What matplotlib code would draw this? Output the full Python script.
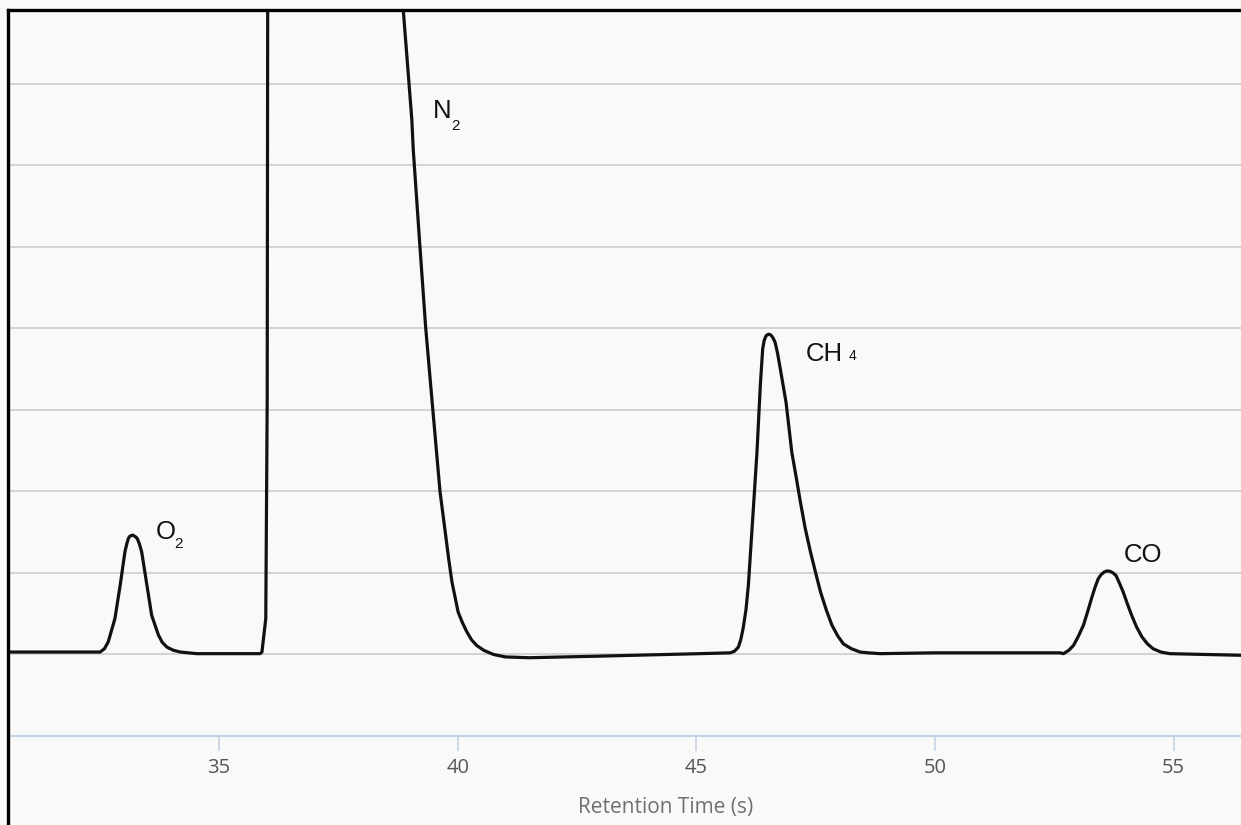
import matplotlib
matplotlib.use("Agg")
import matplotlib.pyplot as plt
from matplotlib.lines import Line2D

# chromatogram: retention time (s) / detector signal
o2_time = [30.58, 31.50, 32.30, 32.51, 32.60, 32.68, 32.82, 32.93, 33.03, 33.07, 33.10, 33.13,
           33.19, 33.26, 33.29, 33.33, 33.38, 33.49, 33.59, 33.73, 33.81, 33.91, 34.05, 34.19,
           34.53, 35.86]
o2_signal = [0.03, 0.03, 0.03, 0.03, 0.07, 0.155, 0.44, 0.85, 1.26, 1.36, 1.42, 1.45,
             1.465, 1.44, 1.42, 1.36, 1.26, 0.85, 0.48, 0.24, 0.15, 0.09, 0.05, 0.03,
             0.01, 0.01]

n2_time = [35.90, 35.98, 36.01, 36.02, 36.03, 38.80, 38.86, 39.04, 39.07, 39.21, 39.33, 39.48,
           39.63, 39.74, 39.81, 39.88, 40.01, 40.10, 40.19, 40.29, 40.40, 40.55, 40.75, 41.00,
           41.50, 43.00, 45.07]
n2_signal = [0.03, 0.44, 3.13, 7.91, 8.80, 8.80, 7.91, 6.56, 6.19, 5.00, 4.01, 3.00,
             2.00, 1.50, 1.18, 0.89, 0.52, 0.39, 0.28, 0.18, 0.11, 0.05, 0.00, -0.03,
             -0.04, -0.02, 0.01]

ch4_time = [45.71, 45.80, 45.88, 45.93, 45.98, 46.04, 46.09, 46.18, 46.27, 46.34, 46.39, 46.42,
            46.46, 46.51, 46.56, 46.60, 46.65, 46.70, 46.76, 46.88, 47.00, 47.09, 47.18, 47.28,
            47.39, 47.50, 47.60, 47.72, 47.84, 47.96, 48.08, 48.25, 48.43, 48.60, 48.85, 49.96,
            52.62]
ch4_signal = [0.02, 0.04, 0.09, 0.18, 0.32, 0.55, 0.85, 1.66, 2.48, 3.30, 3.75, 3.85,
              3.91, 3.93, 3.92, 3.89, 3.83, 3.70, 3.50, 3.09, 2.48, 2.18, 1.87, 1.55,
              1.26, 1.00, 0.77, 0.55, 0.36, 0.23, 0.13, 0.07, 0.03, 0.02, 0.01, 0.02,
              0.02]

co_time = [52.69, 52.80, 52.90, 53.00, 53.11, 53.20, 53.28, 53.35, 53.42, 53.48, 53.54, 53.60,
           53.67, 53.73, 53.79, 53.86, 53.94, 54.03, 54.12, 54.22, 54.33, 54.45, 54.57, 54.73,
           54.92, 56.41]
co_signal = [0.01, 0.05, 0.11, 0.22, 0.36, 0.53, 0.69, 0.82, 0.93, 0.98, 1.01, 1.025,
             1.02, 1.00, 0.97, 0.88, 0.77, 0.62, 0.48, 0.34, 0.22, 0.13, 0.07, 0.03,
             0.01, -0.01]

peak_names = ["O", "N", "CH", "CO"]
peak_subs = ["2", "2", "4", ""]
x_ticks = [35, 40, 45, 50, 55]

# label anchors (data coords) for name and subscript
name_pos = [(33.68, 1.42), (39.48, 6.58), (47.29, 3.60), (53.96, 1.13)]
sub_pos = [(34.06, 1.31), (39.86, 6.44), (48.19, 3.61), None]
sub_size = [11, 11, 10, 11]

plt.rcParams['font.family'] = ['Open Sans', 'DejaVu Sans']
bg = '#f9f9f9'

fig = plt.figure(figsize=(12.41, 8.25), dpi=100, facecolor=bg)
ax = fig.add_axes([8 / 1241, 0.1079, 1 - 8 / 1241, 0.8800])
ax.set_facecolor(bg)

times = o2_time + n2_time + ch4_time + co_time
signal = o2_signal + n2_signal + ch4_signal + co_signal
ax.plot(times, signal, color='#111111', lw=2.3, solid_joinstyle='round',
        solid_capstyle='round', zorder=3)

for name, sub, p, sp, ss in zip(peak_names, peak_subs, name_pos, sub_pos, sub_size):
    ax.text(p[0], p[1], name, family='Liberation Sans', fontsize=18.5,
            color='#111111', ha='left', va='baseline')
    if sp is not None:
        ax.text(sp[0], sp[1], sub, family='Liberation Sans', fontsize=ss,
                color='#111111', ha='left', va='baseline')

ax.set_xlim(30.58, 56.41)
ax.set_ylim(-1, 7.907)
ax.set_yticks(range(0, 8))
ax.yaxis.grid(True, color='#d4d1d1', lw=1.4)
ax.set_axisbelow(True)
ax.tick_params(axis='y', left=False, labelleft=False)

ax.set_xticks(x_ticks)
ax.tick_params(axis='x', colors='#c3d3e4', length=11, width=1.2, pad=5,
               labelsize=14.5, labelcolor='#555555')
for s in ['left', 'right', 'top']:
    ax.spines[s].set_visible(False)
ax.spines['bottom'].set_color('#c3d3e4')
ax.spines['bottom'].set_linewidth(1.5)

ax.set_xlabel('Retention Time (s)', fontsize=15, color='#707070')
ax.xaxis.set_label_coords(0.533, -0.098)
ax.xaxis.label.set_va('center')

# black frame on the top and left edge of the screenshot
top_y = (825 - 10) / 825
left_x = 8 / 1241
fig.add_artist(Line2D([left_x, 1.0], [top_y, top_y], transform=fig.transFigure,
                      color='black', lw=2.4))
fig.add_artist(Line2D([left_x, left_x], [0, top_y], transform=fig.transFigure,
                      color='black', lw=2.4))

fig.savefig('out.png', dpi=100, facecolor=bg)
